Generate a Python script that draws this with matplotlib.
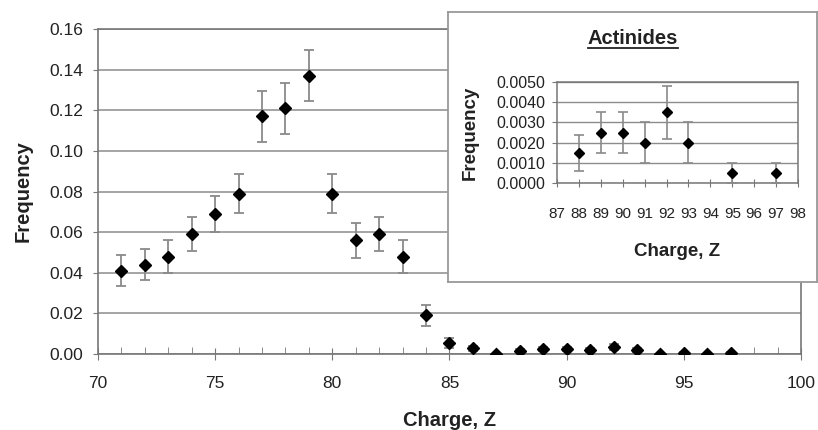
import matplotlib
matplotlib.use("Agg")
import matplotlib.pyplot as plt
from matplotlib.lines import Line2D
from matplotlib.ticker import MultipleLocator, FormatStrFormatter

plt.rcParams["font.family"] = ["Liberation Sans", "DejaVu Sans"]

# main panel: charge vs frequency
charge = [71, 72, 73, 74, 75, 76, 77, 78, 79, 80, 81, 82, 83, 84,
          85, 86, 87, 88, 89, 90, 91, 92, 93, 94, 95, 96, 97]
freq = [0.041, 0.044, 0.048, 0.059, 0.069, 0.079, 0.117, 0.121, 0.137, 0.079,
        0.056, 0.059, 0.048, 0.019, 0.0055, 0.0028, 0.0, 0.0015, 0.0025, 0.0025,
        0.0020, 0.0035, 0.0020, 0.0, 0.0005, 0.0, 0.0005]
err = [0.0075, 0.0075, 0.008, 0.0085, 0.009, 0.0095, 0.0125, 0.0125, 0.0125, 0.0095,
       0.0085, 0.0085, 0.008, 0.005, 0.0025, 0.0012, 0.0, 0.0009, 0.001, 0.001,
       0.001, 0.0013, 0.001, 0.0, 0.0005, 0.0, 0.0005]

# inset: actinides
act_charge = [88, 89, 90, 91, 92, 93, 95, 97]
act_freq = [0.0015, 0.0025, 0.0025, 0.0020, 0.0035, 0.0020, 0.0005, 0.0005]
act_err = [0.0009, 0.0010, 0.0010, 0.0010, 0.0013, 0.0010, 0.0005, 0.0005]

W, H = 818, 430
fig = plt.figure(figsize=(W / 100, H / 100), dpi=100)

def px_axes(x0, y0, x1, y1):
    return [x0 / W, 1 - y1 / H, (x1 - x0) / W, (y1 - y0) / H]

GRID = "#8c8c8c"
SPINE = "#777777"
EBAR = "#8a8a8a"
TXT = "#222222"

ax = fig.add_axes(px_axes(98, 29, 801, 354))
ax.errorbar(charge, freq, yerr=err, fmt="D", color="black", ms=6,
            ecolor=EBAR, elinewidth=1.3, capsize=3.8, capthick=1.3, zorder=3)
ax.set_xlim(70, 100)
ax.set_ylim(0, 0.16)
ax.xaxis.set_major_locator(MultipleLocator(5))
ax.xaxis.set_minor_locator(MultipleLocator(1))
ax.yaxis.set_major_locator(MultipleLocator(0.02))
ax.yaxis.set_major_formatter(FormatStrFormatter("%.2f"))
ax.grid(axis="y", color=GRID, lw=1.1, zorder=0)
ax.set_axisbelow(True)
for s in ax.spines.values():
    s.set_color(SPINE)
    s.set_linewidth(1.2)
ax.tick_params(axis="x", which="major", direction="inout", length=9, color=SPINE,
               labelsize=12.5, labelcolor=TXT, pad=11)
ax.tick_params(axis="x", which="minor", direction="in", length=5, color=SPINE)
ax.tick_params(axis="y", direction="out", length=3.6, color=SPINE,
               labelsize=12.5, labelcolor=TXT, pad=7)
ax.set_xlabel("Charge, Z", fontsize=14.5, fontweight="bold", color=TXT)
ax.set_ylabel("Frequency", fontsize=14.5, fontweight="bold", color=TXT)
ax.xaxis.label.set_va("center")
ax.yaxis.label.set_va("center")
ax.xaxis.set_label_coords(0.5, (354 - 420) / 325)
ax.yaxis.set_label_coords((23 - 98) / 703, 0.5)

# white box behind the inset
box = fig.add_axes(px_axes(448, 12, 817, 282))
box.set_xticks([])
box.set_yticks([])
box.set_facecolor("white")
for s in box.spines.values():
    s.set_color("#999999")
    s.set_linewidth(1.3)

ins = fig.add_axes(px_axes(557, 82, 798, 183))
ins.errorbar(act_charge, act_freq, yerr=act_err, fmt="D", color="black", ms=5,
             ecolor=EBAR, elinewidth=1.2, capsize=3.5, capthick=1.2, zorder=3)
ins.set_xlim(87, 98)
ins.set_ylim(0, 0.005)
ins.xaxis.set_major_locator(MultipleLocator(1))
ins.yaxis.set_major_locator(MultipleLocator(0.001))
ins.yaxis.set_major_formatter(FormatStrFormatter("%.4f"))
ins.grid(axis="y", color=GRID, lw=1.0, zorder=0)
ins.set_axisbelow(True)
for s in ins.spines.values():
    s.set_color(SPINE)
    s.set_linewidth(1.1)
ins.tick_params(axis="x", direction="inout", length=6, color=SPINE,
                labelsize=11, labelcolor=TXT, pad=14)
ins.tick_params(axis="y", direction="out", length=3.6, color=SPINE,
                labelsize=11.5, labelcolor=TXT, pad=5)
ins.set_xlabel("Charge, Z", fontsize=13.5, fontweight="bold", color=TXT)
ins.set_ylabel("Frequency", fontsize=13.5, fontweight="bold", color=TXT)
ins.xaxis.label.set_va("center")
ins.yaxis.label.set_va("center")
ins.xaxis.set_label_coords(0.5, (183 - 252) / 101)
ins.yaxis.set_label_coords((470 - 557) / 241, 0.5)

# underlined title
title = fig.text(633 / W, 1 - 38 / H, "Actinides", ha="center", va="center",
                 fontsize=14.5, fontweight="bold", color=TXT)
fig.canvas.draw()
bb = title.get_window_extent(fig.canvas.get_renderer()).transformed(fig.transFigure.inverted())
fig.add_artist(Line2D([bb.x0, bb.x1], [bb.y0 - 0.002, bb.y0 - 0.002],
                      transform=fig.transFigure, color=TXT, lw=1.3))

fig.savefig("out.png", dpi=100)
